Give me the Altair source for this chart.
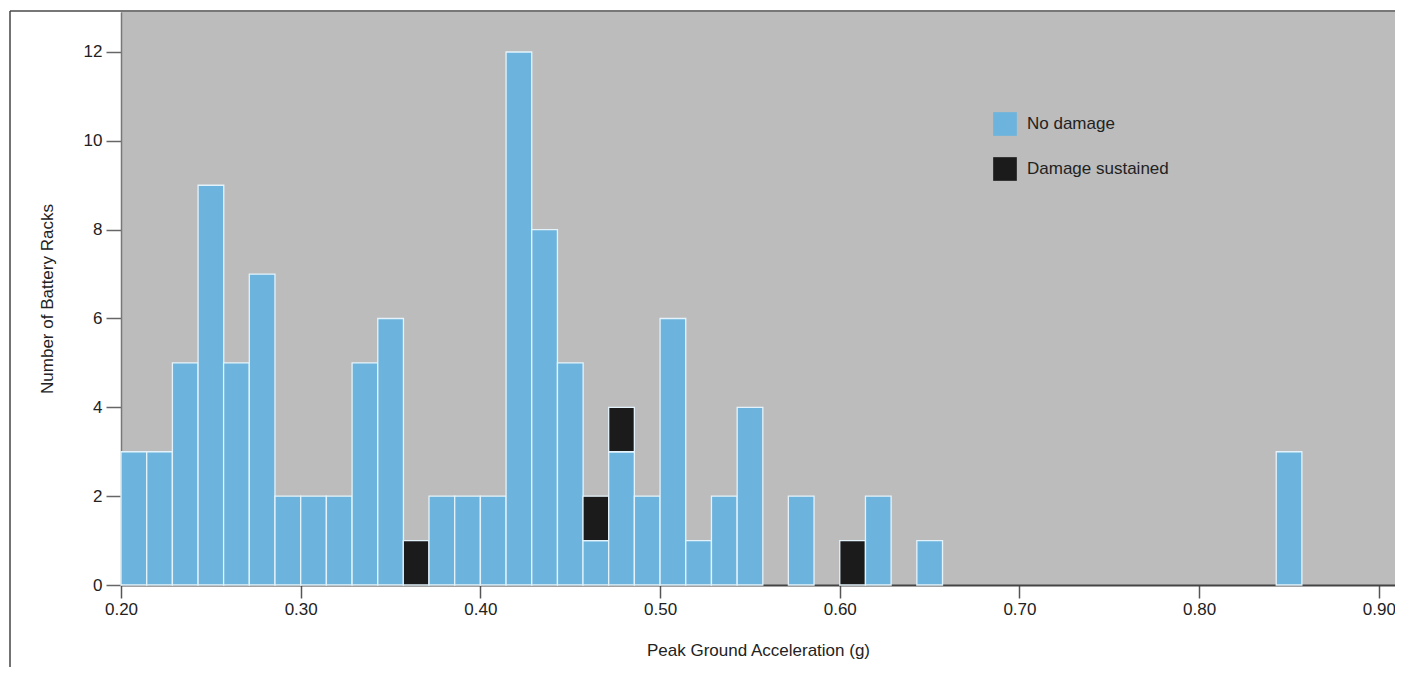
import altair as alt
import pandas as pd

# Histogram bins of Peak Ground Acceleration (g), bin width 0.1/7
bin_start = [0.2000, 0.2143, 0.2286, 0.2429, 0.2571, 0.2714, 0.2857, 0.3000,
             0.3143, 0.3286, 0.3429, 0.3571, 0.3714, 0.3857, 0.4000, 0.4143,
             0.4286, 0.4429, 0.4571, 0.4714, 0.4857, 0.5000, 0.5143, 0.5286,
             0.5429, 0.5571, 0.5714, 0.5857, 0.6000, 0.6143, 0.6286, 0.6429,
             0.8429]
no_damage = [3, 3, 5, 9, 5, 7, 2, 2, 2, 5, 6, 0, 2, 2, 2, 12, 8, 5, 1, 3, 2, 6,
             1, 2, 4, 0, 2, 0, 0, 2, 0, 1, 3]
damage = [0, 0, 0, 0, 0, 0, 0, 0, 0, 0, 0, 1, 0, 0, 0, 0, 0, 0, 1, 1, 0, 0,
          0, 0, 0, 0, 0, 0, 1, 0, 0, 0, 0]
statuses = ["No damage", "Damage sustained"]
colors = ["#6cb4dd", "#1b1b1b"]
x_ticks = [0.2, 0.3, 0.4, 0.5, 0.6, 0.7, 0.8, 0.9]
y_ticks = [0, 2, 4, 6, 8, 10, 12]

rows = []
for s, nd, d in zip(bin_start, no_damage, damage):
    rows.append({"start": s, "status": statuses[0], "count": nd, "ord": 0})
    rows.append({"start": s, "status": statuses[1], "count": d, "ord": 1})
df = pd.DataFrame(rows)

W, H = 1274, 573
FS = 17

bars = alt.Chart(df).transform_filter(
    "datum.count > 0"
).transform_calculate(
    end="datum.start + 0.1/7"
).transform_stack(
    stack="count", groupby=["start"], as_=["y0", "y1"],
    sort=[alt.SortField("ord", order="ascending")]
).mark_bar(stroke="#e4f3fb", strokeWidth=1.3).encode(
    x=alt.X("start:Q",
            scale=alt.Scale(domain=[0.2, 0.909], nice=False, zero=False),
            axis=alt.Axis(values=x_ticks, format=".2f", title="Peak Ground Acceleration (g)",
                          labelFlush=False, tickSize=13, tickColor="#555555",
                          domainColor="#444444", domainWidth=2, tickWidth=1.5,
                          labelPadding=3, titlePadding=25, grid=False)),
    x2="end:Q",
    y=alt.Y("y0:Q",
            scale=alt.Scale(domain=[0, 12.9], nice=False),
            axis=alt.Axis(values=y_ticks, title="Number of Battery Racks",
                          tickSize=15, tickColor="#666666", domainColor="#777777",
                          domainWidth=1.5, tickWidth=1.5, labelPadding=4,
                          titlePadding=27, grid=False)),
    y2="y1:Q",
    color=alt.Color("status:N",
                    scale=alt.Scale(domain=statuses, range=colors),
                    legend=alt.Legend(orient="none", legendX=872, legendY=100,
                                      title=None, symbolType="square", symbolSize=560,
                                      symbolStrokeWidth=0, labelFontSize=FS,
                                      labelFont="Liberation Sans",
                                      labelOffset=10, rowPadding=21,
                                      labelColor="#222222")),
)

frame_top = alt.Chart(alt.Data(values=[{}])).mark_rule(color="#777777", strokeWidth=2).encode(
    x=alt.value(-111), x2=alt.value(W), y=alt.value(-1)
)
frame_left = alt.Chart(alt.Data(values=[{}])).mark_rule(color="#444444", strokeWidth=1.5).encode(
    x=alt.value(-111), y=alt.value(-1), y2=alt.value(H + 82)
)

chart = alt.layer(bars, frame_top, frame_left).properties(
    width=W, height=H,
    background="white",
    autosize=alt.AutoSizeParams(type="none"),
    padding={"left": 113, "top": 4, "right": 0, "bottom": 82},
).configure_view(
    fill="#bcbcbc", strokeWidth=0
).configure_axis(
    labelFont="Liberation Sans", titleFont="Liberation Sans",
    labelFontSize=FS, titleFontSize=FS, labelColor="#222222",
    titleColor="#222222", titleFontWeight="normal"
)

chart.save("out.html", embed_options={"renderer": "svg", "actions": False})
